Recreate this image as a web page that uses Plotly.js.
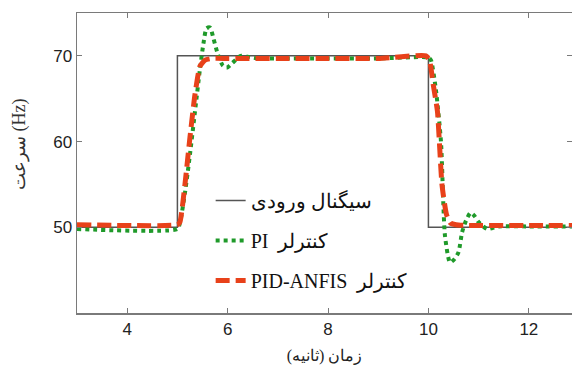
<!DOCTYPE html>
<html>
<head>
<meta charset="utf-8">
<script src="https://cdn.plot.ly/plotly-3.0.1.min.js"></script>
<style>html,body{margin:0;padding:0;background:#fff;}#chart{width:572px;height:372px;}</style>
</head>
<body>
<div id="chart"></div>
<script>
// Input step signal
const tInput = [3, 5, 5, 10, 10, 12.9];
const yInput = [50, 50, 70, 70, 50, 50];

// PI controller response
const tPI = [3, 5.0, 5.05, 5.15, 5.25, 5.35, 5.45, 5.52, 5.58, 5.65, 5.72, 5.8, 5.9, 5.98, 6.1, 6.26, 6.4, 6.6, 7, 8, 9, 10.0, 10.05, 10.15, 10.25, 10.33, 10.43, 10.52, 10.6, 10.67, 10.75, 10.84, 10.92, 11.0, 11.17, 11.4, 12, 12.9];
const yPI = [49.8, 49.8, 50.5, 54, 58.5, 63.5, 68.5, 71.5, 73.2, 73.3, 72, 70.3, 68.9, 68.6, 69.2, 70.0, 69.9, 69.7, 69.7, 69.7, 69.7, 69.8, 69.5, 66, 60, 49, 45.9, 46.3, 47.1, 49.4, 50.8, 51.7, 51.3, 50.6, 49.8, 50.1, 50.1, 50.1];

// PID-ANFIS controller response
const tPID = [3, 5.0, 5.05, 5.15, 5.25, 5.35, 5.45, 5.55, 5.7, 6, 7, 8, 9, 9.95, 10.02, 10.1, 10.18, 10.27, 10.36, 10.44, 10.55, 10.8, 11, 12, 12.9];
const yPID = [50.3, 50.3, 50.6, 55, 60.5, 65.5, 68.8, 69.5, 69.7, 69.7, 69.7, 69.7, 69.7, 70, 69.5, 66.5, 63.5, 55, 51.5, 50.5, 50.3, 50.2, 50.2, 50.2, 50.2];

const names = ['سیگنال ورودی', 'PI  کنترلر', 'PID-ANFIS  کنترلر'];
const xTicks = [4, 6, 8, 10, 12];
const yTicks = [50, 60, 70];
const xTitle = 'زمان (ثانیه)';
const yTitle = 'سرعت (Hz)';

const traces = [
  {x: tInput, y: yInput, name: names[0], mode: 'lines', legendgroup: 'a',
   line: {color: '#555555', width: 1.5}},
  {x: tPI, y: yPI, name: names[1], mode: 'lines', legendgroup: 'b',
   line: {color: '#1f9a2a', width: 4, dash: '4px,4px', shape: 'spline', smoothing: 0.6}},
  {x: tPID, y: yPID, name: names[2], mode: 'lines', legendgroup: 'c',
   line: {color: '#e8411a', width: 5, dash: '14px,6px', shape: 'spline', smoothing: 0.5}}
];

const axisCommon = {
  showgrid: false, zeroline: false, showline: true, linecolor: '#7a7a7a', linewidth: 1.5,
  ticks: 'inside', ticklen: 5, tickcolor: '#7a7a7a', mirror: 'ticks',
  tickfont: {family: 'Liberation Sans, Arial, sans-serif', size: 17, color: '#222'}
};

const layout = {
  width: 572, height: 372,
  margin: {l: 77, r: 0, t: 13, b: 59},
  paper_bgcolor: '#fff', plot_bgcolor: '#fff',
  showlegend: true,
  xaxis: Object.assign({}, axisCommon, {
    range: [3, 12.86], tickvals: xTicks,
    title: {text: xTitle, font: {family: 'Liberation Serif, DejaVu Serif, serif', size: 16, color: '#222'}, standoff: 12}
  }),
  yaxis: Object.assign({}, axisCommon, {
    range: [40, 75], tickvals: yTicks
  }),
  annotations: [{
    text: yTitle, textangle: -90, xref: 'paper', yref: 'paper',
    x: -0.115, y: 0.56, xanchor: 'center', yanchor: 'middle', showarrow: false,
    font: {family: 'Liberation Serif, DejaVu Serif, serif', size: 18, color: '#333'}
  }],
  legend: {
    x: 0.27, y: 0.44, xanchor: 'left', yanchor: 'top',
    bgcolor: 'rgba(255,255,255,0)', borderwidth: 0,
    traceorder: 'grouped', tracegroupgap: 11,
    font: {family: 'Liberation Serif, DejaVu Serif, serif', size: 20, color: '#111'}
  }
};

Plotly.newPlot('chart', traces, layout, {displayModeBar: false, staticPlot: true});
</script>
</body>
</html>
